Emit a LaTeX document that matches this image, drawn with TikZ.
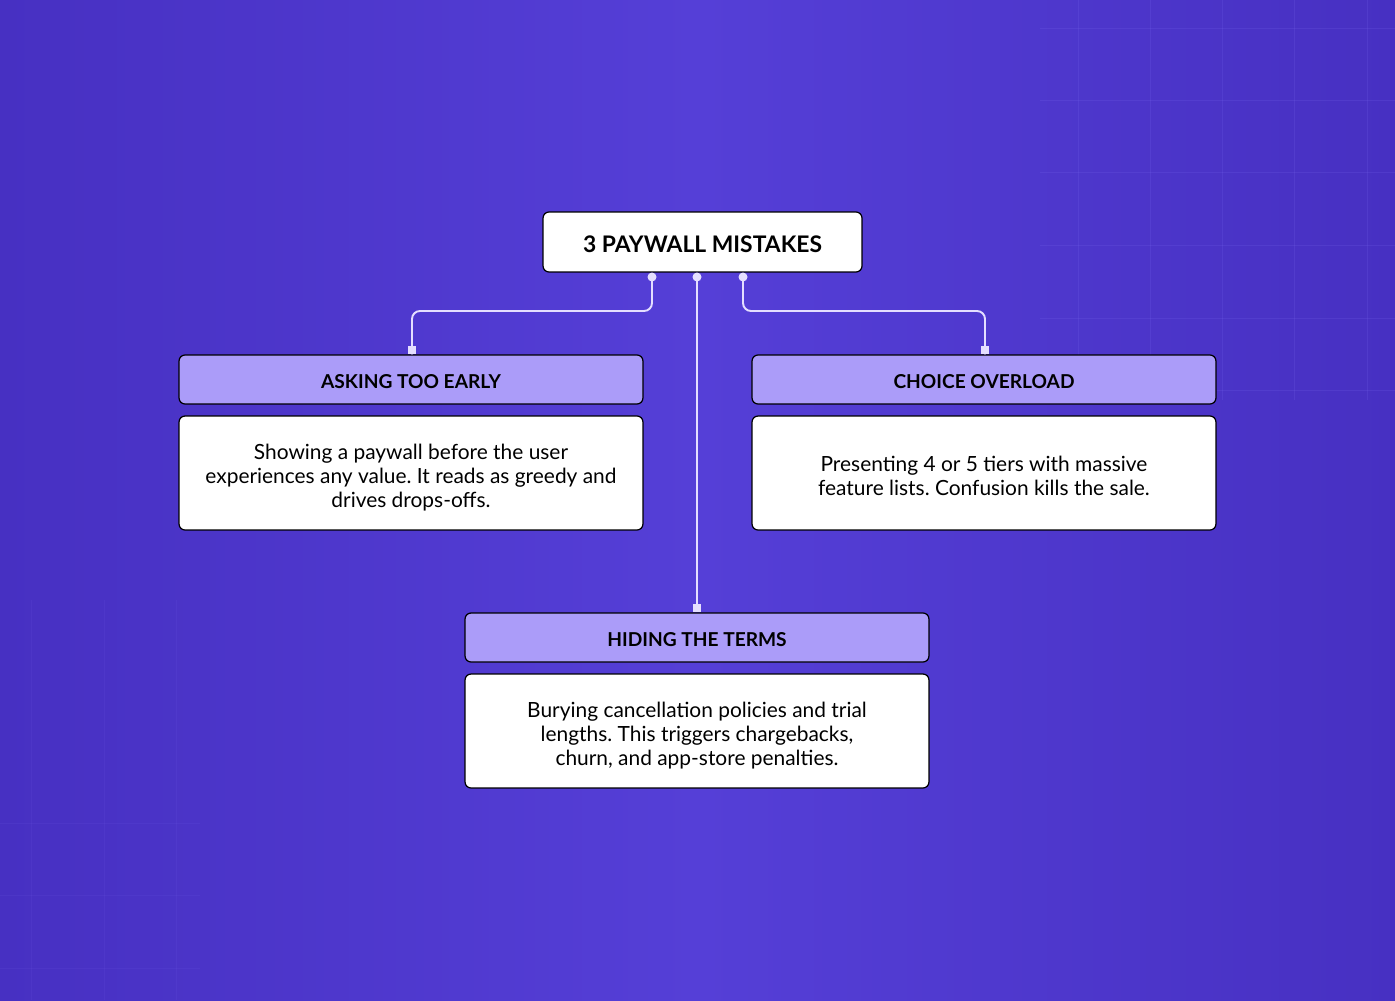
\documentclass[tikz,border=0pt]{standalone}
\usepackage{fontspec}
\setmainfont{Lato}
\usepackage{xcolor}
\usetikzlibrary{positioning,calc}
\definecolor{bgmid}{HTML}{553FD7}
\definecolor{bgedge}{HTML}{4730C2}
\definecolor{headfill}{HTML}{AB9CF9}
\definecolor{linkcol}{HTML}{E4DEFF}
\definecolor{gridcol}{HTML}{7B6BF0}
\frenchspacing
\newcommand{\bodylines}[1]{\begin{tabular}{@{}c@{}}#1\end{tabular}}
\tikzset{
  ptitle/.style={draw=black,fill=white,rounded corners=0.12cm,line width=0.7pt,minimum width=6.38cm,minimum height=1.2cm,text height=11.6pt,text depth=0pt,font=\fontsize{13}{16}\selectfont\bfseries},
  phead/.style={draw=black,fill=headfill,rounded corners=0.12cm,line width=0.7pt,minimum width=9.28cm,minimum height=0.98cm,text height=10.6pt,text depth=0pt,font=\fontsize{10.9}{14}\selectfont\bfseries},
  pbody/.style={draw=black,fill=white,rounded corners=0.12cm,line width=0.7pt,minimum width=9.28cm,minimum height=2.28cm,text height=12.8pt,text depth=0pt,font=\fontsize{11.9}{13.66}\selectfont},
  plink/.style={draw=linkcol,line width=1.1pt,rounded corners=0.16cm},
  pdot/.style={circle,fill=linkcol,inner sep=0pt,minimum size=0.18cm},
  pend/.style={rectangle,fill=linkcol,inner sep=0pt,minimum size=0.17cm,anchor=south},
  pgrid/.style={draw=gridcol,opacity=0.18,line width=0.4pt}
}
\begin{document}
\begin{tikzpicture}[x=0.02cm,y=-0.02cm]
  % background
  \shade[left color=bgedge,right color=bgedge,middle color=bgmid] (0,0) rectangle (1395,1000);
  \useasboundingbox (0,0) rectangle (1395,1000);
  \foreach \gx in {1078,1150,1222,1294,1367} \draw[pgrid] (\gx,0) -- (\gx,400);
  \foreach \gy in {28,100,172,245,318,390} \draw[pgrid] (1040,\gy) -- (1395,\gy);
  \foreach \gx in {31,104,176} \draw[pgrid,opacity=0.1] (\gx,600) -- (\gx,1000);
  \foreach \gy in {823,895,968} \draw[pgrid,opacity=0.1] (0,\gy) -- (200,\gy);
  % title
  \node[ptitle] (title) at (702.5,242) {3 PAYWALL MISTAKES};
  % mistakes
  \node[phead] (early) at (411,379.5) {ASKING TOO EARLY};
  \node[pbody] (earlytxt) at (411,473) {\bodylines{Showing a paywall before the user\\experiences any value. It reads as greedy and\\drives drops-offs.}};
  \node[phead] (choice) at (984,379.5) {CHOICE OVERLOAD};
  \node[pbody] (choicetxt) at (984,473) {\bodylines{Presenting 4 or 5 tiers with massive\\feature lists. Confusion kills the sale.}};
  \node[phead] (terms) at (697,637.5) {HIDING THE TERMS};
  \node[pbody] (termstxt) at (697,731) {\bodylines{Burying cancellation policies and trial\\lengths. This triggers chargebacks,\\churn, and app-store penalties.}};
  % links
  \coordinate (dl) at (652,277); \coordinate (dm) at (697,277); \coordinate (dr) at (743,277);
  \coordinate (kl) at (412,311); \coordinate (kr) at (985,311);
  \draw[plink] (dl) |- (kl) -- (early.north -| kl);
  \draw[plink] (dr) |- (kr) -- (choice.north -| kr);
  \draw[plink] (dm) -- (terms.north -| dm);
  \foreach \d in {dl,dm,dr} \node[pdot] at (\d) {};
  \node[pend] at (early.north -| kl) {};
  \node[pend] at (choice.north -| kr) {};
  \node[pend] at (terms.north -| dm) {};
\end{tikzpicture}
\end{document}
